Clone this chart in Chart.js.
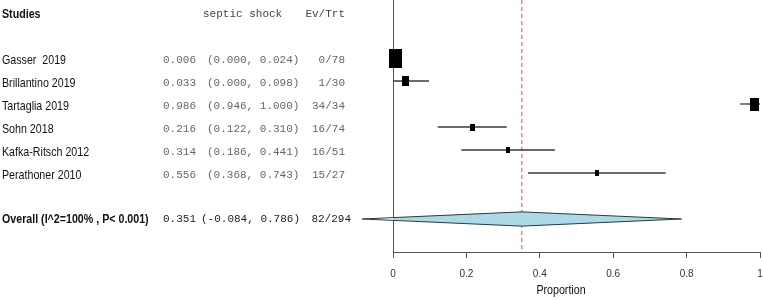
<!DOCTYPE html>
<html>
<head>
<meta charset="utf-8">
<script src="https://cdn.jsdelivr.net/npm/chart.js@4.4.1/dist/chart.umd.min.js"></script>
<style>
  html, body { margin: 0; padding: 0; background: #fff; }
  #wrap { width: 763px; height: 300px; }
</style>
</head>
<body>
<div id="wrap"><canvas id="forest" width="763" height="300"></canvas></div>
<script>
// --- data ---
const studies = ['Gasser  2019', 'Brillantino 2019', 'Tartaglia 2019', 'Sohn 2018', 'Kafka-Ritsch 2012', 'Perathoner 2010'];
const estimates = [0.006, 0.033, 0.986, 0.216, 0.314, 0.556];
const lowerCI = [0.000, 0.000, 0.946, 0.122, 0.186, 0.368];
const upperCI = [0.024, 0.098, 1.000, 0.310, 0.441, 0.743];
const events = [0, 1, 34, 16, 16, 15];
const totals = [78, 30, 34, 74, 51, 27];
const weights = [45.8, 15.2, 21.7, 7.8, 4.5, 5.0]; // relative weights (box area)

const overallLabel = 'Overall (I^2=100% , P< 0.001)';
const overallEst = 0.351;
const overallLower = -0.084;
const overallUpper = 0.786;
const overallEvents = 82;
const overallTotal = 294;

const headers = ['Studies', 'septic shock', 'Ev/Trt'];
const xTicks = [0, 0.2, 0.4, 0.6, 0.8, 1];
const xTitle = 'Proportion';

// is a real narrow face installed? otherwise squeeze Liberation Sans
const probe = document.createElement('canvas').getContext('2d');
probe.font = '13px "Liberation Sans Narrow", monospace';
const wNarrow = probe.measureText(xTitle).width;
probe.font = '13px monospace';
const hasNarrow = Math.abs(wNarrow - probe.measureText(xTitle).width) > 0.5;

const fmt = v => v.toFixed(3);
const OVERALL_ROW = studies.length + 1;
const HEADER_ROW = -2;

function narrowText(ctx, text, x, y, weight, color, align) {
  ctx.save();
  ctx.fillStyle = color;
  ctx.textBaseline = 'middle';
  ctx.textAlign = align || 'left';
  if (hasNarrow) {
    ctx.font = weight + ' 13px "Liberation Sans Narrow"';
    ctx.fillText(text, x, y);
  } else {
    ctx.translate(x, y);
    ctx.scale(0.82, 1);
    ctx.font = weight + ' 13px "Liberation Sans", Arial, sans-serif';
    ctx.fillText(text, 0, 0);
  }
  ctx.restore();
}

function monoText(ctx, text, x, y, color, align) {
  ctx.save();
  ctx.font = '11px "Liberation Mono", "DejaVu Sans Mono", monospace';
  ctx.fillStyle = color;
  ctx.textBaseline = 'middle';
  ctx.textAlign = align || 'left';
  ctx.fillText(text, x, y);
  ctx.restore();
}

const tablePlugin = {
  id: 'tablePlugin',
  afterDraw(chart) {
    const ctx = chart.ctx;
    const y = chart.scales.y;
    const yh = y.getPixelForValue(HEADER_ROW) + 2;
    narrowText(ctx, headers[0], 2, yh, 'bold', '#111');
    monoText(ctx, headers[1], 203, yh, '#444');
    monoText(ctx, headers[2], 345, yh, '#444', 'right');

    studies.forEach((s, i) => {
      const py = y.getPixelForValue(i) + 2;
      narrowText(ctx, s, 2, py, 'normal', '#111');
      monoText(ctx, fmt(estimates[i]), 163, py, '#666');
      monoText(ctx, '(' + fmt(lowerCI[i]) + ', ' + fmt(upperCI[i]) + ')', 207, py, '#666');
      monoText(ctx, events[i] + '/' + totals[i], 345, py, '#666', 'right');
    });

    const po = y.getPixelForValue(OVERALL_ROW);
    narrowText(ctx, overallLabel, 2, po, 'bold', '#111');
    monoText(ctx, fmt(overallEst), 163, po, '#222');
    monoText(ctx, '(' + fmt(overallLower) + ', ' + fmt(overallUpper) + ')', 201, po, '#222');
    monoText(ctx, overallEvents + '/' + overallTotal, 351, po, '#222', 'right');

    // axis title, sits a little left of the axis centre in the original
    narrowText(ctx, xTitle, 561, 290, 'normal', '#111', 'center');
  }
};

// study boxes: area follows the weight, drawn a bit taller than wide like the original
const boxes = weights.map(w => {
  const bw = Math.round(1.92 * Math.sqrt(w));
  const bh = Math.round(bw * 1.45);
  const c = document.createElement('canvas');
  c.width = bw; c.height = bh;
  const g = c.getContext('2d');
  g.fillStyle = '#000';
  g.fillRect(0, 0, bw, bh);
  return c;
});

const yMin = -2.522, yMax = 8.435;
const diamondHalf = 0.31;

const ciSets = studies.map((s, i) => ({
  type: 'line',
  data: [{ x: lowerCI[i], y: i }, { x: upperCI[i], y: i }],
  borderColor: '#3a3a3a',
  borderWidth: 1.3,
  pointRadius: 0,
  clip: false,
  order: 2
}));

const datasets = [
  {
    type: 'scatter',
    data: estimates.map((e, i) => ({ x: e, y: i })),
    pointStyle: ctx => boxes[ctx.dataIndex],
    pointRadius: 8,
    clip: false,
    order: 0
  },
  ...ciSets,
  {
    type: 'line',
    data: [
      { x: overallLower, y: OVERALL_ROW },
      { x: overallEst, y: OVERALL_ROW - diamondHalf },
      { x: overallUpper, y: OVERALL_ROW },
      { x: overallEst, y: OVERALL_ROW + diamondHalf },
      { x: overallLower, y: OVERALL_ROW }
    ],
    borderColor: '#2b3a40',
    borderWidth: 1,
    backgroundColor: '#add8e6',
    fill: 'shape',
    tension: 0,
    pointRadius: 0,
    clip: false,
    order: 3
  },
  {
    type: 'line',
    data: [{ x: overallEst, y: yMin }, { x: overallEst, y: yMax }],
    borderColor: '#ff3b3b',
    borderWidth: 1,
    borderDash: [4, 3],
    pointRadius: 0,
    order: 4
  }
];

const axisFont = hasNarrow ? '"Liberation Sans Narrow"' : '"Liberation Sans", Arial, sans-serif';

new Chart(document.getElementById('forest'), {
  type: 'scatter',
  data: { datasets },
  options: {
    responsive: false,
    animation: false,
    layout: { autoPadding: false, padding: { left: 393, right: 3, top: 0, bottom: 0 } },
    plugins: { legend: { display: false }, tooltip: { enabled: false } },
    scales: {
      x: {
        type: 'linear',
        min: 0,
        max: 1,
        afterBuildTicks: axis => { axis.ticks = xTicks.map(v => ({ value: v })); },
        afterFit: axis => {
          axis.paddingRight = 3;
          axis.height = 48;
        },
        ticks: {
          color: '#333',
          padding: 10,
          callback: v => String(v),
          font: { family: axisFont, size: hasNarrow ? 11 : 10, lineHeight: 1.2 }
        },
        grid: {
          color: c => (c.tick && c.tick.value === 0 ? '#555' : 'rgba(0,0,0,0)'),
          tickColor: '#555',
          tickLength: 6,
          lineWidth: 1
        },
        border: { display: true, color: '#555', width: 1 },
        title: { display: false }
      },
      y: {
        type: 'linear',
        reverse: true,
        min: yMin,
        max: yMax,
        display: false
      }
    }
  },
  plugins: [tablePlugin]
});
</script>
</body>
</html>
